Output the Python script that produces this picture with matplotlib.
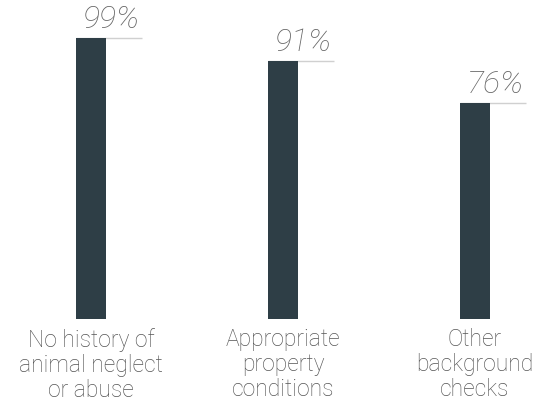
import matplotlib
matplotlib.use('Agg')
import matplotlib.pyplot as plt

categories = ['No history of\nanimal neglect\nor abuse',
              'Appropriate\nproperty\nconditions',
              'Other\nbackground\nchecks']
values = [99, 91, 76]
value_labels = ['99%', '91%', '76%']

BAR_COLOR = '#2e3e46'
TEXT_COLOR = '#555555'
LINE_COLOR = '#d0d0d0'

plt.rcParams['font.family'] = ['Roboto', 'DejaVu Sans']

W, H, DPI = 544, 403, 100
fig = plt.figure(figsize=(W / DPI, H / DPI), dpi=DPI)

# axes in pixel terms: bars centred at 91, 283, 475 px, baseline at 319 px from top
step = 192.0
x0 = 91.0
base = 319.0
ax = fig.add_axes([0, (H - base) / H, 1, base / H])
ax.set_xlim(-x0 / step, (W - x0) / step)
ax.set_ylim(0, base / 281.0 * 99)
ax.axis('off')

bw = 30 / step
xs = range(len(values))
ax.bar(xs, values, width=bw, color=BAR_COLOR, zorder=2)

for i, (v, lab) in enumerate(zip(values, value_labels)):
    left = i - bw / 2
    ax.plot([left, left + 66 / step], [v, v], color=LINE_COLOR, lw=1.0, zorder=1,
            solid_capstyle='butt')
    ax.annotate(lab, (left + 7 / step, v), xytext=(0, 3), textcoords='offset points',
                ha='left', va='bottom', fontsize=23, fontstyle='italic',
                fontweight='light', color='#666666', annotation_clip=False)
    ax.annotate(categories[i], (i, 0), xytext=(0, -6.5), textcoords='offset points',
                ha='center', va='top', fontsize=16.5, fontweight='light',
                color=TEXT_COLOR, linespacing=1.12, annotation_clip=False)

fig.savefig('out.png', dpi=DPI)
